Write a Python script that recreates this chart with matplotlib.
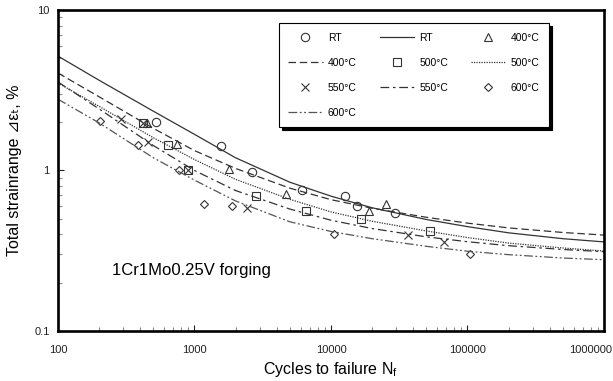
import matplotlib
matplotlib.use("Agg")
import matplotlib.pyplot as plt
import matplotlib.transforms as mtransforms
from matplotlib.ticker import FixedLocator, FixedFormatter, LogLocator, NullFormatter

plt.rcParams['font.family'] = ['Liberation Sans', 'DejaVu Sans']
plt.rcParams['mathtext.default'] = 'regular'

# test data (cycles, strain range %)
rt_n = [522, 1556, 2650, 6180, 12680, 15600, 29400]
rt_e = [2.0, 1.42, 0.98, 0.757, 0.698, 0.601, 0.541]
t400_n = [447, 748, 1790, 4660, 18970, 25300]
t400_e = [1.99, 1.46, 1.02, 0.714, 0.562, 0.618]
t500_n = [417, 637, 891, 2800, 6560, 16600, 53100]
t500_e = [1.99, 1.44, 1.0, 0.697, 0.56, 0.502, 0.421]
t550_n = [288, 417, 459, 891, 2410, 36800, 67300]
t550_e = [2.08, 1.99, 1.51, 1.0, 0.581, 0.396, 0.36]
t600_n = [203, 387, 769, 1180, 1890, 10570, 105000]
t600_e = [2.03, 1.44, 1.0, 0.621, 0.601, 0.402, 0.301]

# fitted curves
curve_n = [100, 200, 500, 1e3, 2e3, 5e3, 1e4, 2e4, 5e4, 1e5, 2e5, 5e5, 1e6]
fit_rt = [5.16, 3.65, 2.34, 1.68, 1.20, 0.845, 0.692, 0.586, 0.495, 0.447, 0.409, 0.376, 0.359]
fit_400 = [4.05, 2.88, 1.83, 1.33, 1.03, 0.776, 0.658, 0.582, 0.511, 0.470, 0.439, 0.411, 0.396]
fit_500 = [3.51, 2.51, 1.60, 1.17, 0.881, 0.661, 0.552, 0.483, 0.420, 0.382, 0.353, 0.329, 0.315]
fit_550 = [3.56, 2.42, 1.43, 1.00, 0.750, 0.575, 0.490, 0.435, 0.386, 0.360, 0.340, 0.322, 0.312]
fit_600 = [2.78, 1.98, 1.20, 0.871, 0.646, 0.479, 0.417, 0.376, 0.337, 0.314, 0.299, 0.285, 0.278]

x_ticks = [100, 1000, 10000, 100000, 1000000]
x_labels = ["100", "1000", "10000", "100000", "1000000"]
y_ticks = [0.1, 1, 10]
y_labels = ["0.1", "1", "10"]

fig = plt.figure(figsize=(6.13, 3.81), dpi=100)
ax = fig.add_axes([0.0946, 0.1312, 0.8907, 0.8426])

c = "#333333"
mk = dict(ls="none", mfc="none", mec=c, mew=0.8)
h = {}
h["rt_p"], = ax.plot(rt_n, rt_e, marker="o", ms=6, label="RT", **mk)
h["rt_l"], = ax.plot(curve_n, fit_rt, color=c, lw=0.9, label="RT")
h["400_p"], = ax.plot(t400_n, t400_e, marker="^", ms=6, label="400°C", **mk)
h["400_l"], = ax.plot(curve_n, fit_400, color=c, lw=0.9, dashes=(6, 3), label="400°C")
h["500_p"], = ax.plot(t500_n, t500_e, marker="s", ms=6, label="500°C", **mk)
h["500_l"], = ax.plot(curve_n, fit_500, color=c, lw=0.9, dashes=(1, 1), label="500°C")
h["550_p"], = ax.plot(t550_n, t550_e, marker="x", ms=6, label="550°C", **mk)
h["550_l"], = ax.plot(curve_n, fit_550, color=c, lw=0.9, dashes=(7, 3, 2, 3), label="550°C")
h["600_p"], = ax.plot(t600_n, t600_e, marker="D", ms=4.3, label="600°C", **mk)
h["600_l"], = ax.plot(curve_n, fit_600, color="#555555", lw=0.9, dashes=(7, 2, 1.5, 2, 1.5, 2), label="600°C")

ax.set_xscale("log")
ax.set_yscale("log")
ax.set_xlim(100, 1000000)
ax.set_ylim(0.1, 10)

ax.xaxis.set_major_locator(FixedLocator(x_ticks))
ax.xaxis.set_major_formatter(FixedFormatter(x_labels))
ax.yaxis.set_major_locator(FixedLocator(y_ticks))
ax.yaxis.set_major_formatter(FixedFormatter(y_labels))
for axis in (ax.xaxis, ax.yaxis):
    axis.set_minor_locator(LogLocator(base=10, subs=range(2, 10)))
    axis.set_minor_formatter(NullFormatter())
ax.tick_params(which="both", direction="in", color="#888888", width=0.8)
ax.tick_params(which="major", length=4)
ax.tick_params(which="minor", length=3)
ax.tick_params(axis="x", pad=10, labelsize=8, colors="#222222")
ax.tick_params(axis="y", pad=6, labelsize=8, colors="#222222")
for s in ax.spines.values():
    s.set_linewidth(1.9)

# last x label sits flush with the right edge, like the original
last = ax.get_xticklabels()[-1]
last.set_horizontalalignment("right")
last.set_transform(last.get_transform() + mtransforms.ScaledTranslation(0.08, 0, fig.dpi_scale_trans))

ax.set_xlabel("Cycles to failure N$_{f}$", fontsize=11.5, labelpad=4)
ax.set_ylabel("Total strainrange \u22bf\u03b5\u209c, %", fontsize=11.5, labelpad=9,
              family=['Liberation Sans', 'DejaVu Sans'])

ax.text(0.099, 0.19, "1Cr1Mo0.25V forging", transform=ax.transAxes,
        fontsize=12, va="center", ha="left")

order = ["rt_p", "400_l", "550_p", "600_l",
         "rt_l", "500_p", "550_l",
         "400_p", "500_l", "600_p"]
leg = ax.legend([h[k] for k in order], [h[k].get_label() for k in order],
                ncol=3, loc="upper left", bbox_to_anchor=(0.395, 0.975),
                fontsize=7.5, handlelength=3.3, handletextpad=0.5,
                columnspacing=2.2, labelspacing=1.45, borderpad=0.9,
                fancybox=False, shadow={"color": "black", "alpha": 1},
                edgecolor="black", framealpha=1)
leg.get_frame().set_linewidth(0.8)

fig.savefig("out.png", dpi=100)
